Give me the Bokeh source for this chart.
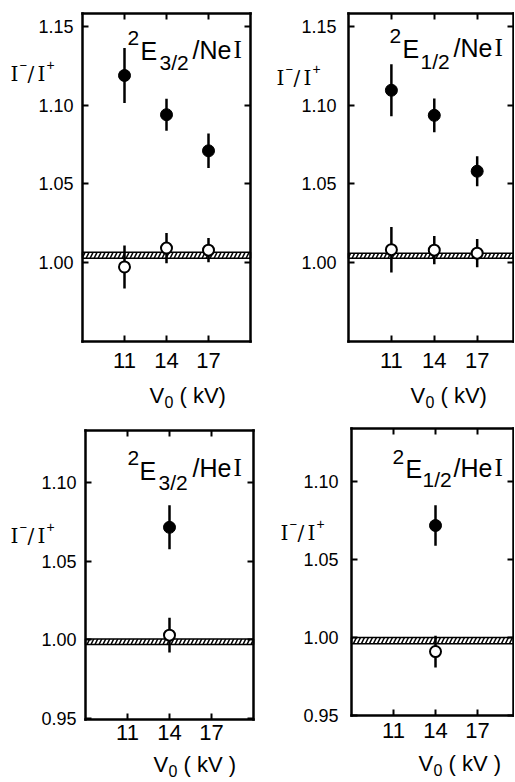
from bokeh.plotting import figure
from bokeh.models import Label, LinearAxis, FixedTicker, Range1d, ColumnDataSource, NumeralTickFormatter
from bokeh.layouts import column, row
from bokeh.embed import file_html
from bokeh.resources import INLINE

# ---------------- data ----------------
ne_volts = [11, 14, 17]
he_volts = [14]
x_ticks = [11, 14, 17]
ne_y_ticks = [1.00, 1.05, 1.10, 1.15]
he_y_ticks = [0.95, 1.00, 1.05, 1.10]

# 2E3/2 / NeI
a_filled = [1.119, 1.094, 1.071]
a_filled_err = [0.0175, 0.0102, 0.011]
a_open = [0.997, 1.009, 1.0077]
a_open_err = [0.0137, 0.0096, 0.0077]
a_band = [1.0026, 1.0064]

# 2E1/2 / NeI
b_filled = [1.1096, 1.0936, 1.058]
b_filled_err = [0.0165, 0.0108, 0.0095]
b_open = [1.008, 1.0077, 1.0058]
b_open_err = [0.0145, 0.009, 0.009]
b_band = [1.0026, 1.0058]

# 2E3/2 / HeI
c_filled = [1.0715]
c_filled_err = [0.014]
c_open = [1.003]
c_open_err = [0.011]
c_band = [0.997, 1.0006]

# 2E1/2 / HeI
d_filled = [1.0718]
d_filled_err = [0.013]
d_open = [0.991]
d_open_err = [0.0102]
d_band = [0.996, 1.000]

SANS = "Liberation Sans"
SERIF = "DejaVu Serif"


def style_axis(ax, ticks, bounds, show, size, standoff):
    ax.ticker = FixedTicker(ticks=ticks, minor_ticks=[])
    ax.bounds = bounds
    ax.axis_line_color = "black"
    ax.axis_line_width = 2.5
    ax.axis_line_cap = "square"
    ax.major_tick_in = 6
    ax.major_tick_out = 0
    ax.major_tick_line_width = 2
    ax.major_tick_line_color = "black"
    ax.minor_tick_line_color = None
    if show:
        ax.major_label_standoff = standoff
        ax.major_label_text_font = SANS
        ax.major_label_text_font_size = size
        ax.major_label_text_color = "black"
    else:
        ax.major_label_standoff = 0
        ax.major_label_text_font_size = "0px"
        ax.major_label_overrides = {t: "" for t in ticks}


def make_panel(xs, filled, filled_err, opened, opened_err, band, y_ticks,
               box_data, box_page, canvas, xstand, ystand):
    xlo, xhi, ylo, yhi = box_data
    bx0, bx1, by0, by1 = box_page          # page pixels: left, right, top, bottom
    cl, ct, cw, ch = canvas                # canvas left, top, width, height on page
    sx = (bx1 - bx0) / (xhi - xlo)
    sy = (by1 - by0) / (yhi - ylo)
    x_start = xlo - (bx0 - cl) / sx
    x_end = xlo + (cl + cw - bx0) / sx
    y_end = yhi + (by0 - ct) / sy
    y_start = ylo - (ct + ch - by1) / sy

    p = figure(width=cw, height=ch,
               x_range=Range1d(x_start, x_end), y_range=Range1d(y_start, y_end),
               x_axis_type=None, y_axis_type=None,
               output_backend="svg", toolbar_location=None,
               min_border_left=0, min_border_top=0,
               min_border_right=0, min_border_bottom=0)
    p.grid.visible = False
    p.outline_line_color = None
    p.background_fill_color = "white"
    p.border_fill_color = "white"

    bottom_ax = LinearAxis(fixed_location=ylo)
    style_axis(bottom_ax, x_ticks, (xlo, xhi), True, "22px", xstand)
    p.add_layout(bottom_ax, "below")
    top_ax = LinearAxis(fixed_location=yhi)
    style_axis(top_ax, x_ticks, (xlo, xhi), False, None, 0)
    p.add_layout(top_ax, "above")
    left_ax = LinearAxis(fixed_location=xlo, formatter=NumeralTickFormatter(format="0.00"))
    style_axis(left_ax, y_ticks, (ylo, yhi), True, "18px", ystand)
    p.add_layout(left_ax, "left")
    right_ax = LinearAxis(fixed_location=xhi)
    style_axis(right_ax, y_ticks, (ylo, yhi), False, None, 0)
    p.add_layout(right_ax, "right")

    p.quad(left=[xlo], right=[xhi], bottom=[band[0]], top=[band[1]],
           fill_color="white", hatch_pattern="/", hatch_color="black",
           hatch_scale=8, hatch_weight=1.5, line_color="black", line_width=1.5)

    fsrc = ColumnDataSource(dict(x=xs, y=filled,
                                 lo=[v - e for v, e in zip(filled, filled_err)],
                                 hi=[v + e for v, e in zip(filled, filled_err)]))
    osrc = ColumnDataSource(dict(x=xs, y=opened,
                                 lo=[v - e for v, e in zip(opened, opened_err)],
                                 hi=[v + e for v, e in zip(opened, opened_err)]))
    for src in (fsrc, osrc):
        p.segment(x0="x", y0="lo", x1="x", y1="hi", source=src,
                  line_color="black", line_width=2.5)
    p.scatter(x="x", y="y", source=fsrc, marker="circle", size=12,
              fill_color="black", line_color="black", line_width=1)
    p.scatter(x="x", y="y", source=osrc, marker="circle", size=11,
              fill_color="white", line_color="black", line_width=2)
    return p, (cl, ct + ch)


def add_text(pc, text, px, py, size, font=SANS):
    # px, py: page position of the baseline start
    p, (cl, cb) = pc
    p.add_layout(Label(x=px - cl, y=cb - py, x_units="screen", y_units="screen",
                       text=text, text_font=font, text_font_size=f"{size}px",
                       text_baseline="alphabetic", text_align="left",
                       text_color="black"))


def add_title(pc, sub, atom, pos):
    (x2, y2), (xe, ye), (xs, ys), (xn, yn), xi = pos
    add_text(pc, "2", x2, y2, 21)
    add_text(pc, "E", xe, ye, 25)
    add_text(pc, sub, xs, ys, 21)
    add_text(pc, "/" + atom, xn, yn, 25)
    add_text(pc, "I", xi, yn, 25, font="Liberation Serif")


def add_ylab(pc, px, py):
    add_text(pc, "I", px, py, 20, font=SERIF)
    add_text(pc, "\u2212", px + 9, py - 8, 13)
    add_text(pc, "/", px + 17, py, 20, font=SERIF)
    add_text(pc, "I", px + 27, py, 20, font=SERIF)
    add_text(pc, "+", px + 36, py - 9, 14)


def add_xlab(pc, px, py, tail):
    add_text(pc, "V", px, py, 22)
    add_text(pc, "0", px + 15, py + 6, 16)
    add_text(pc, tail, px + 30, py, 22)


# top-left
pa = make_panel(ne_volts, a_filled, a_filled_err, a_open, a_open_err, a_band, ne_y_ticks,
                (8, 20, 0.9495, 1.1585), (82, 250, 13, 341), (0, 0, 274, 412), 11, 9)
# top-right
pb = make_panel(ne_volts, b_filled, b_filled_err, b_open, b_open_err, b_band, ne_y_ticks,
                (8, 19.54, 0.9495, 1.1585), (348, 513, 13, 341), (274, 0, 240, 412), 11, 12)
# bottom-left
pc = make_panel(he_volts, c_filled, c_filled_err, c_open, c_open_err, c_band, he_y_ticks,
                (8, 20, 0.9494, 1.133), (85, 253, 430, 719), (0, 412, 274, 369), 5, 9)
# bottom-right
pd = make_panel(he_volts, d_filled, d_filled_err, d_open, d_open_err, d_band, he_y_ticks,
                (8, 19.57, 0.95, 1.134), (351, 513, 428, 715), (274, 412, 240, 369), 7, 13)

add_title(pa, "3/2", "Ne", ((127, 37), (140, 50), (159, 62), (192, 49), 233))
add_ylab(pa, 10, 73)
add_xlab(pa, 149, 395, "( kV)")

add_title(pb, "1/2", "Ne", ((389, 35), (402, 48), (420, 61), (453, 47), 494))
add_ylab(pb, 276, 77)
add_xlab(pb, 410, 395, "( kV)")

add_title(pc, "3/2", "He", ((127, 457), (139, 470), (158, 482), (192, 467), 233))
add_ylab(pc, 10, 535)
add_xlab(pc, 153, 764, "( kV )")

add_title(pd, "1/2", "He", ((392, 456), (405, 468), (422, 479), (453, 467), 494))
add_ylab(pd, 280, 532)
add_xlab(pd, 418, 763, "( kV )")

layout = column(row(pa[0], pb[0]), row(pc[0], pd[0]))

open("out.html", "w").write(file_html(layout, INLINE))
